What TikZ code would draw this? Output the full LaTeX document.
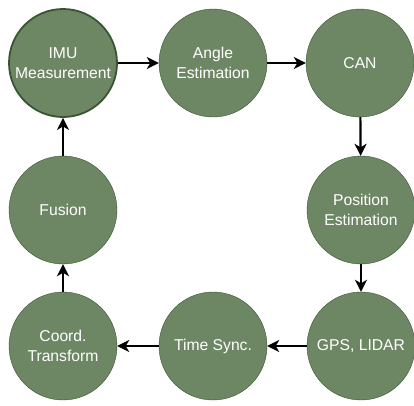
\documentclass[tikz,border=0pt]{standalone}
\usepackage{fontspec}
\setmainfont{Liberation Sans}
\usetikzlibrary{arrows.meta}
\definecolor{stategreen}{HTML}{6D8764}
\definecolor{stateline}{HTML}{3A5431}
\begin{document}
\begin{tikzpicture}[x=1pt,y=-1pt,>={Stealth[length=12pt,width=12pt,inset=3.5pt]},
  state/.style={circle,draw=stateline,fill=stategreen,minimum size=108pt,inner sep=0pt,
    align=center,text=white,font=\fontsize{15.7}{20}\selectfont},
  flow/.style={->,line width=2.2pt}]
\useasboundingbox (0,0) rectangle (414,405);
% top row
\node[state,line width=1.8pt] (imu) at (63,63) {IMU\\Measurement};
\node[state] (angle) at (213,63) {Angle\\Estimation};
\node[state] (can) at (360,63) {CAN};
% right column
\node[state] (pos) at (361,210) {Position\\Estimation};
% bottom row
\node[state] (gps) at (361,346) {GPS, LIDAR};
\node[state] (sync) at (213,346) {Time Sync.};
\node[state] (coord) at (63,346) {Coord.\\Transform};
% left column
\node[state] (fusion) at (63,210) {Fusion};

\draw[flow] (imu) -- (angle);
\draw[flow] (angle) -- (can);
\draw[flow] (can) -- (pos);
\draw[flow] (pos) -- (gps);
\draw[flow] (gps) -- (sync);
\draw[flow] (sync) -- (coord);
\draw[flow] (coord) -- (fusion);
\draw[flow] (fusion) -- (imu);

\end{tikzpicture}
\end{document}
